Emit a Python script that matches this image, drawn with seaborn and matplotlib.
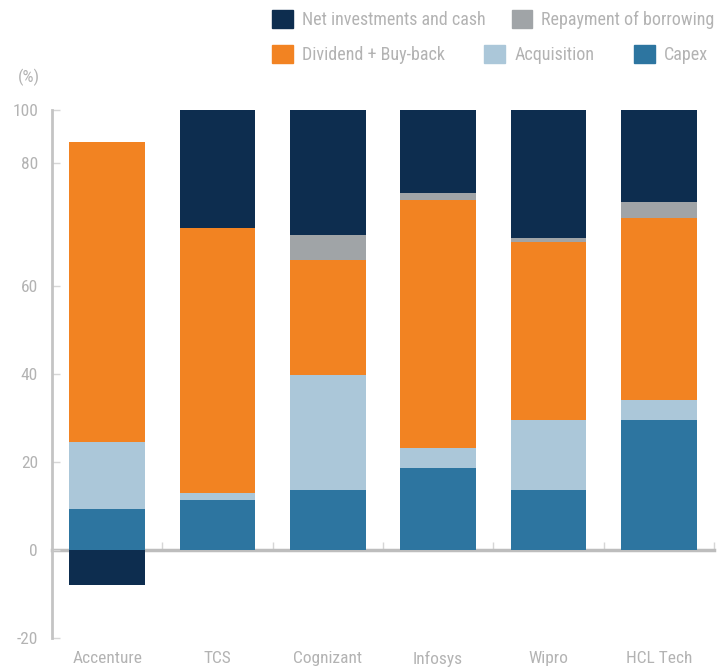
import numpy as np
import pandas as pd
import matplotlib
matplotlib.use("Agg")
import matplotlib.pyplot as plt
from matplotlib import font_manager
from matplotlib.patches import Patch
import seaborn as sns

# ---- data (percent of cash deployment) ----
companies = ["Accenture", "TCS", "Cognizant", "Infosys", "Wipro", "HCL Tech"]
capex = [9.3, 11.3, 13.6, 18.6, 13.6, 29.5]
acquisition = [15.2, 1.6, 26.2, 4.5, 15.9, 4.6]
dividend_buyback = [68.2, 60.2, 26.0, 56.4, 40.6, 41.3]
repayment = [0.0, 0.0, 5.9, 1.6, 0.9, 3.6]
net_invest_cash = [-8.0, 26.9, 28.3, 18.9, 29.0, 21.0]

ytick_pos = [-20, 0, 20, 40, 60, 88, 100]
ytick_labels = ["-20", "0", "20", "40", "60", "80", "100"]

colors = {
    "Net investments and cash": "#0d2d4f",
    "Repayment of borrowing": "#a0a4a7",
    "Dividend + Buy-back": "#f28322",
    "Acquisition": "#abc7d9",
    "Capex": "#2d75a0",
}

sns.set_theme(style="white")
avail = {f.name for f in font_manager.fontManager.ttflist}
fam = [f for f in ["Liberation Sans Narrow", "Roboto Condensed", "Liberation Sans", "DejaVu Sans"] if f in avail]
plt.rcParams["font.family"] = fam

TXT = "#b3b3b3"

df = pd.DataFrame({
    "company": companies,
    "Capex": capex,
    "Acquisition": acquisition,
    "Dividend + Buy-back": dividend_buyback,
    "Repayment of borrowing": repayment,
    "Net investments and cash": net_invest_cash,
})

# cumulative tops for overlay stacking
c1 = df["Capex"]
c2 = c1 + df["Acquisition"]
c3 = c2 + df["Dividend + Buy-back"]
c4 = c3 + df["Repayment of borrowing"]
c5 = np.where(df["Net investments and cash"] > 0, c4 + df["Net investments and cash"], df["Net investments and cash"])

layers = [
    ("Net investments and cash", c5),
    ("Repayment of borrowing", c4),
    ("Dividend + Buy-back", c3),
    ("Acquisition", c2),
    ("Capex", c1),
]

fig = plt.figure(figsize=(7.26, 6.69), dpi=100)
ax = fig.add_axes([52 / 726, 1 - 638 / 669, (714 - 52) / 726, (638 - 110) / 669])

for name, vals in layers:
    sns.barplot(x=df["company"], y=np.asarray(vals), color=colors[name], saturation=1,
                width=0.685, ax=ax, errorbar=None, order=companies, linewidth=0, edgecolor="none")

ax.set_xlim(-0.5, 5.5)
ax.set_ylim(-20, 100)
ax.set_xlabel("")
ax.set_ylabel("")

for s in ["top", "right", "bottom"]:
    ax.spines[s].set_visible(False)
ax.spines["left"].set_color("#c4c4c4")
ax.spines["left"].set_linewidth(2)

ax.set_yticks(ytick_pos)
ax.set_yticklabels(ytick_labels)
ax.tick_params(axis="y", direction="in", length=6, width=1, color="#d6d6d6",
               labelcolor=TXT, labelsize=12.5, pad=10, left=True)
ax.tick_params(axis="x", length=0, labelcolor=TXT, labelsize=12.5, pad=9.5)

# zero baseline with small separators
sec = ax.secondary_xaxis(20 / 120)
sec.set_xticks([0.5, 1.5, 2.5, 3.5, 4.5, 5.5])
sec.tick_params(direction="in", length=6, width=1, color="#d6d6d6", labelbottom=False)
sec.spines["bottom"].set_color("#bdbdbd")
sec.spines["bottom"].set_linewidth(2.5)

fig.text(40 / 726, 1 - 77 / 669, "(%)", ha="right", va="center", color=TXT, fontsize=12.5)

# legend rows
row1 = ["Net investments and cash", "Repayment of borrowing"]
row2 = ["Dividend + Buy-back", "Acquisition", "Capex"]
common = dict(frameon=False, fontsize=13, labelcolor=TXT, handlelength=1.15, handleheight=1.15,
              handletextpad=0.5, borderpad=0, borderaxespad=0)
leg1 = fig.legend(handles=[Patch(color=colors[n], label=n) for n in row1], ncol=2,
                  loc="upper left", bbox_to_anchor=(272 / 726, 1 - 10 / 669),
                  columnspacing=1.45, **common)
leg2 = fig.legend(handles=[Patch(color=colors[n], label=n) for n in row2], ncol=3,
                  loc="upper left", bbox_to_anchor=(272 / 726, 1 - 45 / 669),
                  columnspacing=2.2, **common)

fig.savefig("out.png", dpi=100)
